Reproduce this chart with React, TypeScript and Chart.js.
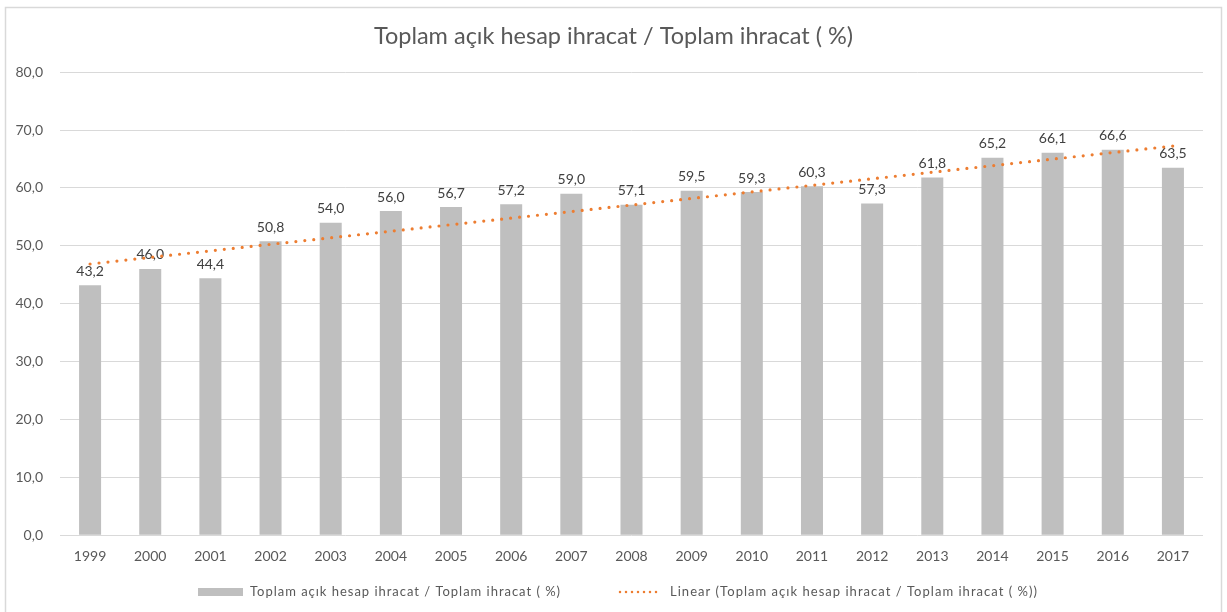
import React, { useEffect, useRef } from "react";
import { Chart, registerables } from "chart.js";

Chart.register(...registerables);

const TITLE = "Toplam açık hesap ihracat / Toplam ihracat ( %)";
const SERIES_NAME = "Toplam açık hesap ihracat / Toplam ihracat ( %)";
const TREND_NAME = "Linear (Toplam açık hesap ihracat / Toplam ihracat ( %))";

const years = ["1999", "2000", "2001", "2002", "2003", "2004", "2005", "2006", "2007", "2008", "2009", "2010", "2011", "2012", "2013", "2014", "2015", "2016", "2017"];
const values = [43.2, 46.0, 44.4, 50.8, 54.0, 56.0, 56.7, 57.2, 59.0, 57.1, 59.5, 59.3, 60.3, 57.3, 61.8, 65.2, 66.1, 66.6, 63.5];
const yTicks = [0, 10, 20, 30, 40, 50, 60, 70, 80];

// Linear trendline (least squares) fitted on the series, as Excel does
function linearTrend(ys: number[]): number[] {
  const n = ys.length;
  const mx = (n - 1) / 2;
  const my = ys.reduce((a, b) => a + b, 0) / n;
  let sxy = 0;
  let sxx = 0;
  ys.forEach((y, i) => {
    sxy += (i - mx) * (y - my);
    sxx += (i - mx) * (i - mx);
  });
  const slope = sxy / sxx;
  return ys.map((_, i) => my + slope * (i - mx));
}

const fmt = (v: number) => v.toFixed(1).replace(".", ",");

const FONT = "Lato, 'Open Sans', sans-serif";
const TEXT = "#595959";
const BAR = "#BFBFBF";
const ORANGE = "#ED7D31";

export default function App() {
  const ref = useRef<HTMLCanvasElement | null>(null);

  useEffect(() => {
    document.body.style.margin = "0";
    if (!ref.current) return;

    const borderPlugin = {
      id: "outerBorder",
      beforeDraw(chart: any) {
        const ctx = chart.ctx;
        ctx.save();
        ctx.fillStyle = "#ffffff";
        ctx.fillRect(0, 0, chart.width, chart.height);
        ctx.strokeStyle = "#D9D9D9";
        ctx.lineWidth = 1.5;
        ctx.strokeRect(5.5, 7.5, chart.width - 11, chart.height + 20);
        ctx.restore();
      },
    };

    const labelPlugin = {
      id: "barLabels",
      afterDatasetDraw(chart: any, args: any) {
        if (args.index !== 0) return;
        const ctx = chart.ctx;
        const meta = chart.getDatasetMeta(0);
        ctx.save();
        ctx.font = `14px ${FONT}`;
        ctx.fillStyle = "#404040";
        ctx.textAlign = "center";
        ctx.textBaseline = "bottom";
        meta.data.forEach((el: any, i: number) => {
          ctx.fillText(fmt(values[i]), el.x, el.y - 7);
        });
        ctx.restore();
      },
    };

    // draws text spread to a target width (Excel renders legend text loosely spaced)
    const drawSpread = (ctx: any, text: string, x: number, y: number, target: number) => {
      ctx.letterSpacing = "0px";
      const natural = ctx.measureText(text).width;
      const ls = Math.max(0, (target - natural) / text.length);
      ctx.letterSpacing = `${ls}px`;
      ctx.fillText(text, x, y);
      ctx.letterSpacing = "0px";
    };

    const legendPlugin = {
      id: "customLegend",
      afterDraw(chart: any) {
        const ctx = chart.ctx;
        ctx.save();
        ctx.font = `13px ${FONT}`;
        ctx.textBaseline = "middle";
        ctx.textAlign = "left";
        const sym = 45;
        const gapText = 7;
        const gapItems = 57;
        const w1 = 311;
        const w2 = 368;
        const total = sym + gapText + w1 + gapItems + sym + gapText + w2;
        let x = Math.round((chart.width - total) / 2) + 4;
        const y = chart.height - 20;
        ctx.fillStyle = BAR;
        ctx.fillRect(x, y - 4, sym, 8);
        x += sym + gapText;
        ctx.fillStyle = TEXT;
        drawSpread(ctx, SERIES_NAME, x, y, w1);
        x += w1 + gapItems;
        ctx.strokeStyle = ORANGE;
        ctx.lineWidth = 2.5;
        ctx.lineCap = "round";
        ctx.setLineDash([0, 6]);
        ctx.beginPath();
        ctx.moveTo(x + 2, y);
        ctx.lineTo(x + sym - 2, y);
        ctx.stroke();
        ctx.setLineDash([]);
        x += sym + gapText;
        ctx.fillStyle = TEXT;
        drawSpread(ctx, TREND_NAME, x, y, w2);
        ctx.restore();
      },
    };

    const chart = new Chart(ref.current, {
      type: "bar",
      data: {
        labels: years,
        datasets: [
          {
            type: "bar",
            label: SERIES_NAME,
            data: values,
            backgroundColor: BAR,
            borderWidth: 0,
            barPercentage: 0.366,
            categoryPercentage: 1,
            order: 1,
          },
          {
            type: "line",
            label: TREND_NAME,
            data: linearTrend(values),
            borderColor: ORANGE,
            borderWidth: 3.2,
            borderDash: [0, 9],
            borderCapStyle: "round",
            pointRadius: 0,
            fill: false,
            tension: 0,
            order: 0,
          } as any,
        ],
      },
      options: {
        animation: false,
        responsive: true,
        maintainAspectRatio: false,
        layout: { padding: { top: 0, left: 14, right: 14, bottom: 42 } },
        plugins: {
          legend: { display: false },
          tooltip: { enabled: false },
          title: {
            display: true,
            text: TITLE,
            color: TEXT,
            font: { family: FONT, size: 23.5, weight: "normal" },
            padding: { top: 22, bottom: 22 },
          },
        },
        scales: {
          x: {
            grid: { display: false },
            border: { display: false },
            ticks: {
              color: TEXT,
              font: { family: FONT, size: 14 },
              padding: 5,
              maxRotation: 0,
              autoSkip: false,
            },
          },
          y: {
            min: 0,
            max: 80,
            afterBuildTicks(scale: any) {
              scale.ticks = yTicks.map((v) => ({ value: v }));
            },
            afterFit(scale: any) {
              scale.width = 46;
            },
            grid: { color: "#D9D9D9", lineWidth: 1, drawTicks: false },
            border: { display: false },
            ticks: {
              color: TEXT,
              font: { family: FONT, size: 14 },
              padding: 17,
              callback: (v: any) => fmt(Number(v)),
            },
          },
          spacer: {
            position: "right",
            display: true,
            grid: { display: false },
            border: { display: false },
            ticks: { display: false },
            afterFit(scale: any) {
              scale.width = 10;
            },
          },
        },
      },
      plugins: [borderPlugin, labelPlugin, legendPlugin],
    } as any);

    return () => chart.destroy();
  }, []);

  return (
    <div style={{ position: "relative", width: 1227, height: 612 }}>
      <canvas ref={ref} />
    </div>
  );
}
